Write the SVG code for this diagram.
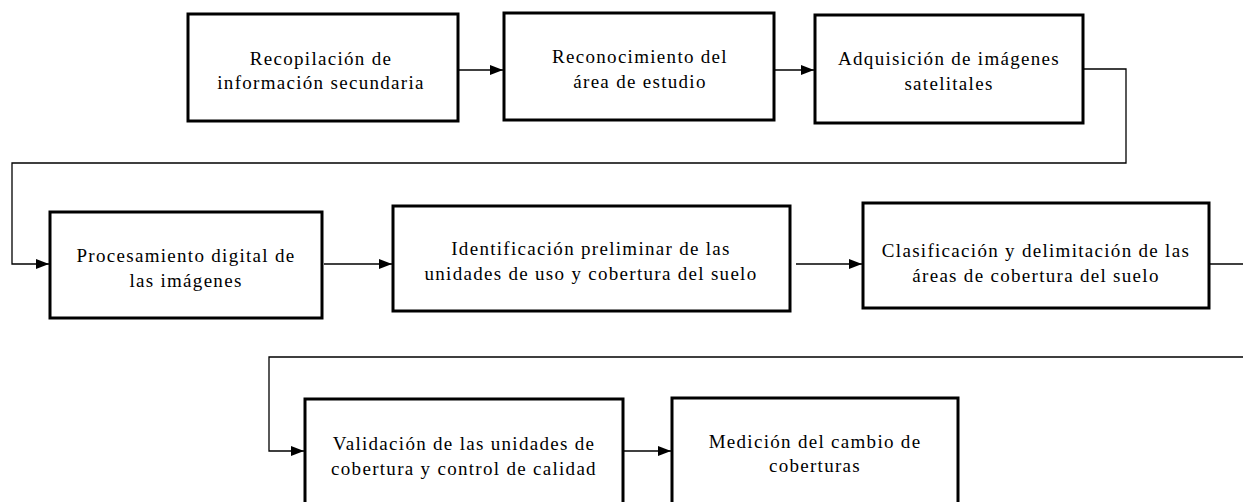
<svg xmlns="http://www.w3.org/2000/svg" width="1243" height="502" viewBox="0 0 1243 502">
<style>
.box{fill:#fff;stroke:#000;stroke-width:3}
.lbl{font-size:19px;letter-spacing:1.3px;fill:#000;text-anchor:middle}
.con{fill:none;stroke:#000;stroke-width:1.3}
</style>
<defs>
<marker id="ah" markerUnits="userSpaceOnUse" markerWidth="14" markerHeight="12" refX="13" refY="6" orient="auto">
<path d="M0,1 L13,6 L0,11 Z" fill="#000"/>
</marker>
</defs>
<rect width="1243" height="502" fill="#fff"/>
<g id="connectors">
<path class="con" d="M459,70 H503" marker-end="url(#ah)"/>
<path class="con" d="M775,70 H814" marker-end="url(#ah)"/>
<path class="con" d="M1084,69 H1126 V163 H12 V264 H49" marker-end="url(#ah)"/>
<path class="con" d="M324,264 H392" marker-end="url(#ah)"/>
<path class="con" d="M796,264 H862" marker-end="url(#ah)"/>
<path class="con" d="M1210,264 H1243"/>
<path class="con" d="M1243,357 H269 V451 H304" marker-end="url(#ah)"/>
<path class="con" d="M624,451 H671" marker-end="url(#ah)"/>
</g>
<g font-family="Liberation Serif, DejaVu Serif, serif">
<g id="n1"><rect class="box" x="188" y="14" width="270" height="107"/>
<text class="lbl" x="321" y="65">Recopilación de</text><text class="lbl" x="321" y="89">información secundaria</text></g>
<g id="n2"><rect class="box" x="504" y="13" width="270" height="107"/>
<text class="lbl" x="640" y="63">Reconocimiento del</text><text class="lbl" x="640" y="88">área de estudio</text></g>
<g id="n3"><rect class="box" x="815" y="15" width="268" height="108"/>
<text class="lbl" x="949" y="65">Adquisición de imágenes</text><text class="lbl" x="949" y="90">satelitales</text></g>
<g id="n4"><rect class="box" x="50" y="212" width="272" height="106"/>
<text class="lbl" x="186" y="262">Procesamiento digital de</text><text class="lbl" x="186" y="287">las imágenes</text></g>
<g id="n5"><rect class="box" x="393" y="206" width="397" height="105"/>
<text class="lbl" x="591" y="255">Identificación preliminar de las</text><text class="lbl" x="591" y="280">unidades de uso y cobertura del suelo</text></g>
<g id="n6"><rect class="box" x="863" y="203" width="346" height="105"/>
<text class="lbl" x="1036" y="257">Clasificación y delimitación de las</text><text class="lbl" x="1036" y="282">áreas de cobertura del suelo</text></g>
<g id="n7"><rect class="box" x="305" y="399" width="318" height="110"/>
<text class="lbl" x="464" y="450">Validación de las unidades de</text><text class="lbl" x="464" y="475">cobertura y control de calidad</text></g>
<g id="n8"><rect class="box" x="672" y="398" width="286" height="110"/>
<text class="lbl" x="815" y="448">Medición del cambio de</text><text class="lbl" x="815" y="472">coberturas</text></g>
</g>
</svg>
